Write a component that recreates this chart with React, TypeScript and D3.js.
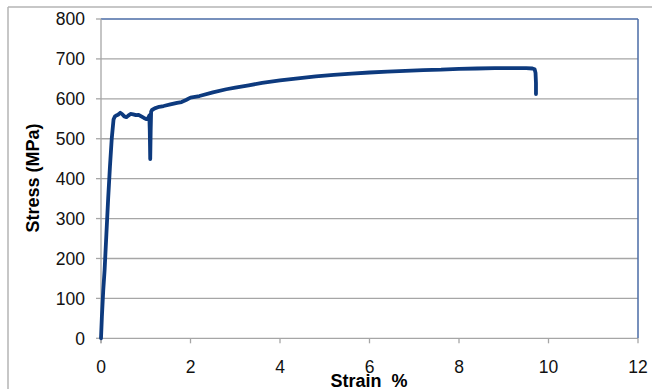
import React from "react";
import * as d3 from "d3";

const strain: number[] = [
  0, 0.02, 0.05, 0.08, 0.12, 0.16, 0.2, 0.24, 0.28, 0.31, 0.34, 0.38, 0.43, 0.47, 0.52, 0.57, 0.61, 0.66, 0.72, 0.78, 0.84, 0.9, 0.96, 1.02, 1.06, 1.08, 1.09, 1.1, 1.11, 1.12, 1.14, 1.2, 1.3, 1.4, 1.55, 1.7, 1.8, 1.9, 2.0, 2.2, 2.5, 2.8, 3.0, 3.3, 3.6, 4.0, 4.4, 4.8, 5.2, 5.6, 6.0, 6.4, 6.8, 7.2, 7.6, 8.0, 8.4, 8.8, 9.2, 9.5, 9.64, 9.69, 9.71, 9.72, 9.72,
];
const stress: number[] = [
  0, 55, 120, 170, 260, 350, 430, 500, 548, 556, 558, 560, 565, 562, 556, 554, 558, 562, 561, 559, 560, 556, 552, 549, 553, 558, 520, 449, 520, 568, 572, 576, 580, 582, 586, 590, 592, 597, 603, 607, 616, 624, 628, 634, 640, 646, 651, 656, 660, 663, 666, 668, 670, 672, 673, 675, 676, 677, 677, 677, 676, 674, 665, 640, 612,
];

const xTicks: number[] = [0, 2, 4, 6, 8, 10, 12];
const yTicks: number[] = [0, 100, 200, 300, 400, 500, 600, 700, 800];

const xTitle = "Strain  %";
const yTitle = "Stress (MPa)";

export default function App() {
  const W = 652;
  const H = 389;
  const left = 101;
  const right = 638;
  const top = 19;
  const bottom = 338.3;

  const x = d3.scaleLinear().domain([0, 12]).range([left, right]);
  const y = d3.scaleLinear().domain([0, 800]).range([bottom, top]);

  const pts: [number, number][] = strain.map((s, i) => [s, stress[i]]);
  const line = d3
    .line<[number, number]>()
    .x((d) => x(d[0]))
    .y((d) => y(d[1]));

  const font = "'Liberation Sans', Arial, sans-serif";

  return (
    <svg
      width={W}
      height={H}
      style={{ position: "absolute", left: 0, top: 0, background: "#fff" }}
    >
      <rect x={0} y={0} width={W} height={H} fill="#fff" />
      {/* outer chart border */}
      <line x1={8} y1={7} x2={W} y2={7} stroke="#b4b4b4" strokeWidth={1.5} />
      <line x1={8} y1={7} x2={8} y2={H} stroke="#b4b4b4" strokeWidth={1.5} />

      {/* gridlines */}
      {yTicks.map((t) => (
        <line
          key={"g" + t}
          x1={left}
          x2={right}
          y1={y(t)}
          y2={y(t)}
          stroke={t === 800 ? "#4a6ba6" : "#a6a6a6"}
          strokeWidth={t === 800 ? 1.5 : 1.3}
        />
      ))}
      {/* right border */}
      <line x1={right} x2={right} y1={top} y2={bottom} stroke="#4a6ba6" strokeWidth={1.5} />
      {/* y axis */}
      <line x1={left} x2={left} y1={top} y2={bottom + 5} stroke="#a6a6a6" strokeWidth={1.3} />
      {/* y ticks */}
      {yTicks.map((t) => (
        <g key={"yt" + t}>
          <line x1={left - 5} x2={left} y1={y(t)} y2={y(t)} stroke="#a6a6a6" strokeWidth={1.3} />
          <text
            x={85}
            y={y(t)}
            dy="0.36em"
            textAnchor="end"
            fontFamily={font}
            fontSize={17.5}
            fill="#111"
          >
            {t}
          </text>
        </g>
      ))}
      {/* x ticks */}
      {xTicks.map((t) => (
        <g key={"xt" + t}>
          <line x1={x(t)} x2={x(t)} y1={bottom} y2={bottom + 5} stroke="#a6a6a6" strokeWidth={1.3} />
          <text
            x={x(t)}
            y={373}
            textAnchor="middle"
            fontFamily={font}
            fontSize={17.5}
            fill="#111"
          >
            {t}
          </text>
        </g>
      ))}

      {/* data line */}
      <path
        d={line(pts) || ""}
        fill="none"
        stroke="#0d3a7e"
        strokeWidth={3.8}
        strokeLinejoin="round"
        strokeLinecap="round"
      />

      {/* axis titles */}
      <text
        x={369}
        y={387}
        textAnchor="middle"
        fontFamily={font}
        fontSize={18}
        fontWeight="bold"
        fill="#000"
        style={{ whiteSpace: "pre" }}
      >
        {xTitle}
      </text>
      <text
        transform={`translate(39,178) rotate(-90)`}
        textAnchor="middle"
        fontFamily={font}
        fontSize={18}
        fontWeight="bold"
        fill="#000"
      >
        {yTitle}
      </text>
    </svg>
  );
}
